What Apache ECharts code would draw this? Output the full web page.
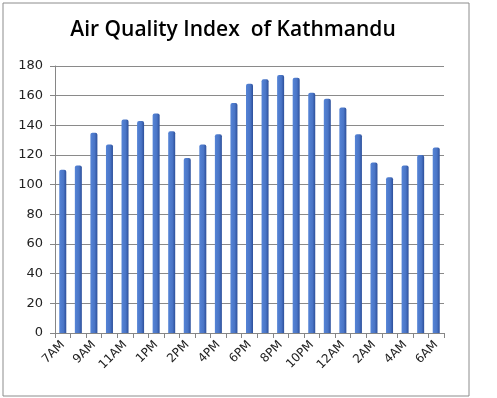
<!DOCTYPE html>
<html>
<head>
<meta charset="utf-8">
<script src="https://cdn.jsdelivr.net/npm/echarts@6/dist/echarts.min.js"></script>
<style>
  html, body { margin: 0; padding: 0; background: #fff; }
  #main { width: 497px; height: 398px; }
</style>
</head>
<body>
<div id="main"></div>
<script>
// hourly readings, 7AM to 6AM next day
var hours = ["7AM", "8AM", "9AM", "10AM", "11AM", "12PM", "1PM", "1:30PM", "2PM", "3PM", "4PM", "5PM",
    "6PM", "7PM", "8PM", "9PM", "10PM", "11PM", "12AM", "1AM", "2AM", "3AM", "4AM", "5AM", "6AM"];
var aqi = [110, 113, 135, 127, 144, 143, 148, 136, 118, 127, 134, 155,
    168, 171, 174, 172, 162, 158, 152, 134, 115, 105, 113, 120, 125];
var yTicks = { min: 0, max: 180, step: 20 };

var myChart = echarts.init(document.getElementById("main"));
var option = {
    animation: false,
    backgroundColor: "#fff",
    title: {
        text: "Air Quality Index  of Kathmandu",
        left: 228,
        textAlign: "center",
        top: 15,
        textStyle: {
            fontFamily: "Open Sans",
            fontSize: 21,
            fontWeight: 600,
            color: "#000"
        }
    },
    graphic: [
        {
            type: "rect",
            shape: { x: 3, y: 3, width: 466, height: 393 },
            style: { fill: "none", stroke: "#8c8c8c", lineWidth: 1 },
            silent: true
        }
    ],
    grid: {
        left: 55,
        right: 53,
        top: 66,
        bottom: 65
    },
    xAxis: {
        type: "category",
        data: hours,
        axisLine: { lineStyle: { color: "#868686" } },
        axisTick: { show: true, interval: 0, length: 5, lineStyle: { color: "#868686" } },
        axisLabel: {
            interval: 1,
            rotate: 45,
            fontFamily: "DejaVu Sans",
            fontSize: 12,
            color: "#222",
            margin: 10
        }
    },
    yAxis: {
        type: "value",
        min: yTicks.min,
        max: yTicks.max,
        interval: yTicks.step,
        axisLine: { show: true, lineStyle: { color: "#868686" } },
        axisTick: { show: true, length: 5, lineStyle: { color: "#868686" } },
        axisLabel: {
            fontFamily: "DejaVu Sans",
            fontSize: 13,
            color: "#222",
            margin: 12
        },
        splitLine: { lineStyle: { color: "#8a8a8a", width: 1 } }
    },
    series: [
        {
            name: "AQI",
            type: "bar",
            data: aqi,
            barWidth: 7,
            itemStyle: {
                color: new echarts.graphic.LinearGradient(0, 0, 1, 0, [
                    { offset: 0, color: "#5584d6" },
                    { offset: 0.6, color: "#4a75c6" },
                    { offset: 1, color: "#2c4f9a" }
                ]),
                borderRadius: [2, 2, 0, 0]
            }
        }
    ]
};
myChart.setOption(option);
</script>
</body>
</html>
